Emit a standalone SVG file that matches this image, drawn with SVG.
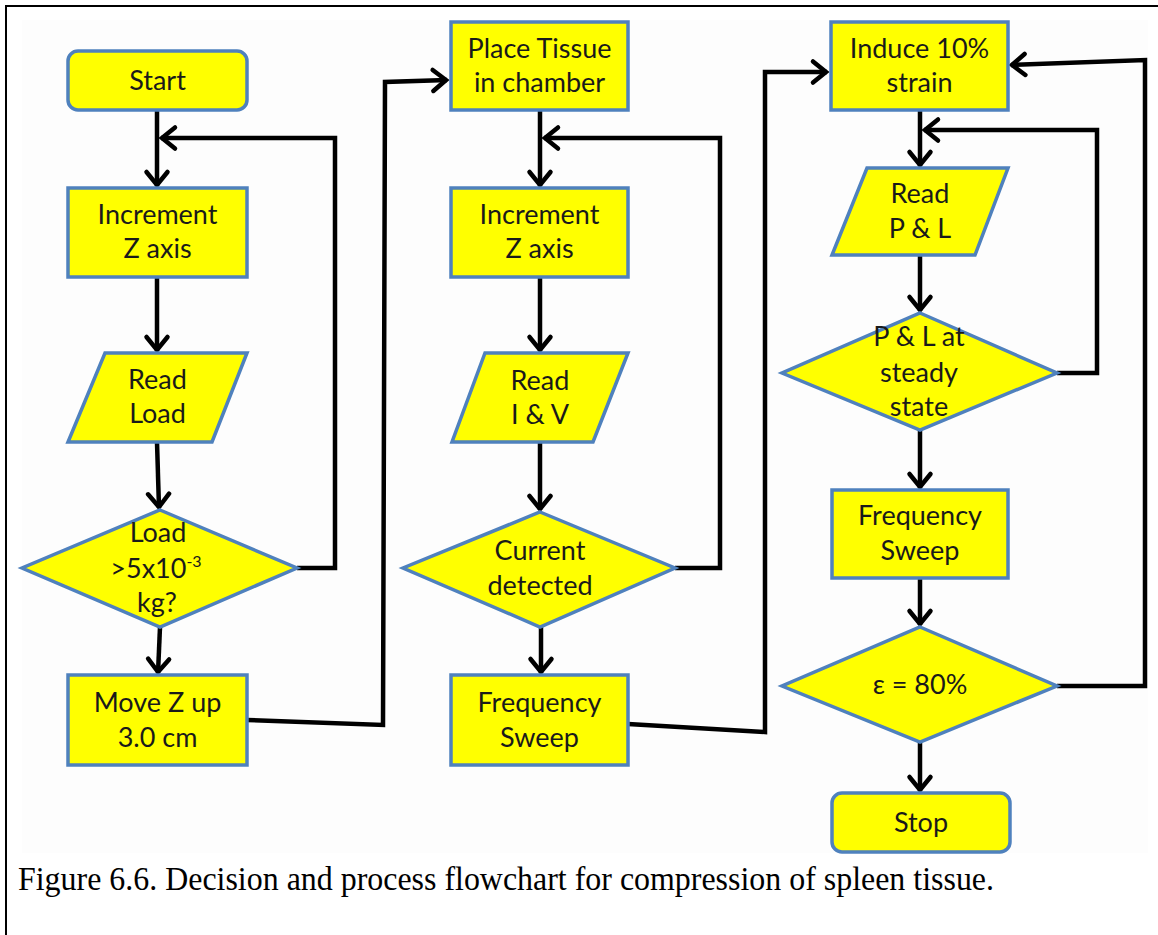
<svg xmlns="http://www.w3.org/2000/svg" width="1158" height="935" viewBox="0 0 1158 935">
  <style>
    .shape { fill: #ffff00; stroke: #4f81bd; stroke-width: 3.5; stroke-linejoin: miter; }
    .lbl { font-family: Lato, "Open Sans", "Liberation Sans", sans-serif; font-size: 27px; fill: #1a1a1a; text-anchor: middle; }
    .sup { font-size: 16px; }
    .wire { fill: none; stroke: #000; stroke-width: 4.5; stroke-linejoin: miter; }
    .caption { font-family: "Liberation Serif", "Times New Roman", serif; font-size: 33px; fill: #000; }
  </style>
  <defs>
    <marker id="chev" markerUnits="userSpaceOnUse" viewBox="-18 -14 22 28" markerWidth="22" markerHeight="28" refX="1" refY="0" orient="auto">
      <path d="M -13 -10.5 L 0 0 L -13 10.5" fill="none" stroke="#000" stroke-width="4.5" stroke-linecap="round" stroke-linejoin="miter"/>
    </marker>
  </defs>

  <!-- page -->
  <rect x="0" y="0" width="1158" height="935" fill="#ffffff"/>
  <rect x="22" y="20" width="1126" height="833" fill="#fdfdfd"/>
  <path d="M 6 935 L 6 6 L 1158 6" fill="none" stroke="#000" stroke-width="2"/>

  <!-- connectors -->
  <g id="connectors" class="wire" marker-end="url(#chev)">
    <path d="M 157 110 L 157 186"/>
    <path d="M 297 568 L 335 568 L 335 138 L 161 138"/>
    <path d="M 157 277 L 157 351"/>
    <path d="M 157 442 L 159 508"/>
    <path d="M 160 627 L 158 673"/>
    <path d="M 247 720 L 383 725 L 385 82 L 447 80"/>
    <path d="M 540 110 L 540 186"/>
    <path d="M 675 568 L 720 568 L 720 138 L 544 138"/>
    <path d="M 540 277 L 540 351"/>
    <path d="M 540 442 L 540 510"/>
    <path d="M 541 627 L 541 673"/>
    <path d="M 628 724 L 765 732 L 765 72 L 827 72"/>
    <path d="M 920 110 L 920 166"/>
    <path d="M 1057 373 L 1097 373 L 1097 130 L 924 130"/>
    <path d="M 920 255 L 920 311"/>
    <path d="M 920 430 L 920 488"/>
    <path d="M 920 578 L 920 625"/>
    <path d="M 920 742 L 920 791"/>
    <path d="M 1057 686 L 1145 686 L 1145 60 L 1011 65"/>
  </g>

  <!-- column 1 -->
  <g id="start">
    <rect class="shape" x="68" y="51" width="179" height="59" rx="10"/>
    <text class="lbl" x="157.5" y="90">Start</text>
  </g>
  <g id="increment-z-1">
    <rect class="shape" x="68" y="188" width="179" height="89"/>
    <text class="lbl" x="157.5" y="224">Increment</text>
    <text class="lbl" x="157.5" y="258">Z axis</text>
  </g>
  <g id="read-load">
    <polygon class="shape" points="105,353 247,353 212,442 68,442"/>
    <text class="lbl" x="157.5" y="389">Read</text>
    <text class="lbl" x="157.5" y="423">Load</text>
  </g>
  <g id="load-check">
    <polygon class="shape" points="160,510 297,568 160,627 22,568"/>
    <text class="lbl" x="158" y="542">Load</text>
    <text class="lbl" x="156" y="578">&gt;5x10<tspan class="sup" dy="-11">-3</tspan></text>
    <text class="lbl" x="157" y="612">kg?</text>
  </g>
  <g id="move-z-up">
    <rect class="shape" x="68" y="675" width="179" height="90"/>
    <text class="lbl" x="157.5" y="712">Move Z up</text>
    <text class="lbl" x="157.5" y="747">3.0 cm</text>
  </g>

  <!-- column 2 -->
  <g id="place-tissue">
    <rect class="shape" x="451" y="22" width="177" height="88"/>
    <text class="lbl" x="539.5" y="58">Place Tissue</text>
    <text class="lbl" x="539.5" y="92">in chamber</text>
  </g>
  <g id="increment-z-2">
    <rect class="shape" x="451" y="188" width="177" height="89"/>
    <text class="lbl" x="539.5" y="224">Increment</text>
    <text class="lbl" x="539.5" y="258">Z axis</text>
  </g>
  <g id="read-iv">
    <polygon class="shape" points="485,353 628,353 593,442 452,442"/>
    <text class="lbl" x="540" y="390">Read</text>
    <text class="lbl" x="540" y="424">I &amp; V</text>
  </g>
  <g id="current-check">
    <polygon class="shape" points="540,512 675,568 540,627 403,568"/>
    <text class="lbl" x="540" y="560">Current</text>
    <text class="lbl" x="540" y="595">detected</text>
  </g>
  <g id="frequency-sweep-1">
    <rect class="shape" x="451" y="675" width="177" height="90"/>
    <text class="lbl" x="539.5" y="712">Frequency</text>
    <text class="lbl" x="539.5" y="747">Sweep</text>
  </g>

  <!-- column 3 -->
  <g id="induce-strain">
    <rect class="shape" x="831" y="22" width="177" height="88"/>
    <text class="lbl" x="919.5" y="58">Induce 10%</text>
    <text class="lbl" x="919.5" y="92">strain</text>
  </g>
  <g id="read-pl">
    <polygon class="shape" points="867,168 1008,168 975,255 832,255"/>
    <text class="lbl" x="920" y="203">Read</text>
    <text class="lbl" x="920" y="238">P &amp; L</text>
  </g>
  <g id="steady-check">
    <polygon class="shape" points="920,313 1057,373 920,430 782,373"/>
    <text class="lbl" x="919" y="346">P &amp; L at</text>
    <text class="lbl" x="919" y="382">steady</text>
    <text class="lbl" x="919" y="416">state</text>
  </g>
  <g id="frequency-sweep-2">
    <rect class="shape" x="832" y="490" width="176" height="88"/>
    <text class="lbl" x="920" y="525">Frequency</text>
    <text class="lbl" x="920" y="560">Sweep</text>
  </g>
  <g id="strain-check">
    <polygon class="shape" points="920,627 1057,686 920,742 782,686"/>
    <text class="lbl" x="920" y="694">ε = 80%</text>
  </g>
  <g id="stop">
    <rect class="shape" x="832" y="793" width="178" height="59" rx="10"/>
    <text class="lbl" x="921" y="832">Stop</text>
  </g>

  <!-- caption -->
  <text class="caption" x="18" y="890" textLength="976" lengthAdjust="spacingAndGlyphs">Figure 6.6. Decision and process flowchart for compression of spleen tissue.</text>
</svg>
